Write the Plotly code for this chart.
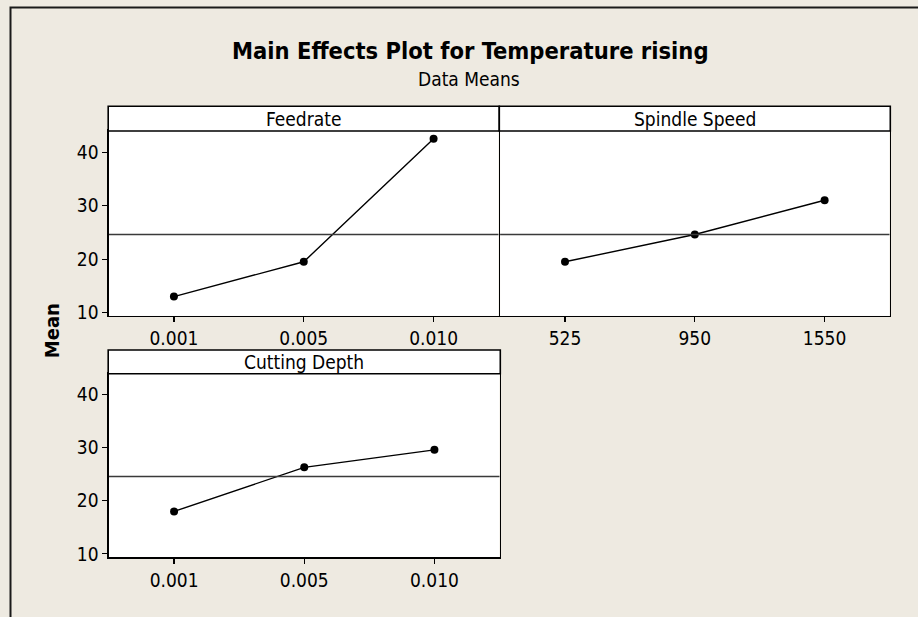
import plotly.graph_objects as go

# ---- data ----
feedrate_levels = ["0.001", "0.005", "0.010"]
feedrate_means = [13.0, 19.5, 42.5]
spindle_levels = ["525", "950", "1550"]
spindle_means = [19.5, 24.6, 31.0]
depth_levels = ["0.001", "0.005", "0.010"]
depth_means = [18.0, 26.3, 29.6]
grand_mean = 24.6
panel_titles = ["Feedrate", "Spindle Speed", "Cutting Depth"]
y_ticks = [10, 20, 30, 40]

W, H = 918, 617
FONT = "DejaVu Sans Condensed, Liberation Sans, Arial, sans-serif"
BG = "#EEEAE1"

def fx(px):
    return px / W

def fy(py):
    return 1 - py / H

fig = go.Figure()

panels = [
    # (levels, means, xaxis id, yaxis id, x0, x1, strip_top, data_top, data_bottom, show y labels)
    (feedrate_levels, feedrate_means, "x", "y", 109.0, 498.5, 107.5, 132.5, 319.5, True),
    (spindle_levels, spindle_means, "x2", "y2", 500.1, 889.5, 107.5, 132.5, 319.5, False),
    (depth_levels, depth_means, "x3", "y3", 109.0, 499.5, 354.0, 378.0, 563.5, True),
]

yr = [9.39, 43.95]
shapes = []
annotations = []

for i, (lv, mv, xa, ya, x0, x1, st, dt, db, showy) in enumerate(panels):
    fig.add_trace(go.Scatter(
        x=lv, y=mv, xaxis=xa, yaxis=ya, mode="lines+markers",
        line=dict(color="black", width=1.4),
        marker=dict(color="black", size=8, symbol="circle"),
        showlegend=False, hoverinfo="skip", cliponaxis=False,
    ))
    suffix = "" if i == 0 else str(i + 1)
    xkey = "xaxis" + suffix
    ykey = "yaxis" + suffix
    fig.layout[xkey] = dict(
        domain=[fx(x0), fx(x1)], anchor=ya, type="category",
        range=[-0.5, 2.5], showgrid=False, zeroline=False,
        showline=True, mirror=True, linecolor="black", linewidth=1.6,
        ticks="outside", ticklen=5, tickwidth=1.2, tickcolor="black",
        tickfont=dict(family=FONT, size=19, color="black"),
        fixedrange=True,
    )
    fig.layout[ykey] = dict(
        domain=[fy(db), fy(dt)], anchor=xa, range=yr,
        tickvals=y_ticks, showgrid=False, zeroline=False,
        showline=True, mirror=True, linecolor="black", linewidth=1.6,
        ticks="outside" if showy else "", ticklen=5, tickwidth=1.2, tickcolor="black",
        showticklabels=showy,
        tickfont=dict(family=FONT, size=19, color="black"),
        fixedrange=True,
    )
    # mean reference line
    shapes.append(dict(type="line", xref=xa + " domain", yref=ya,
                       x0=0, x1=1, y0=grand_mean, y1=grand_mean,
                       line=dict(color="#3a3a3a", width=1.5), layer="above"))
    # strip
    shapes.append(dict(type="rect", xref="paper", yref="paper",
                       x0=fx(x0 - 0.8), x1=fx(x1 + 0.8), y0=fy(dt), y1=fy(st),
                       fillcolor="white", line=dict(color="black", width=1.6)))
    annotations.append(dict(text=panel_titles[i], xref="paper", yref="paper",
                            x=fx((x0 + x1) / 2), y=fy((st + dt) / 2),
                            xanchor="center", yanchor="middle", showarrow=False,
                            font=dict(family=FONT, size=19, color="black")))

# outer frame (cropped at right/bottom)
shapes.append(dict(type="rect", xref="paper", yref="paper",
                   x0=fx(10.5), x1=1.2, y0=-0.2, y1=fy(7.5),
                   line=dict(color="#1a1a1a", width=2), fillcolor="rgba(0,0,0,0)", layer="below"))

annotations += [
    dict(text="<b>Main Effects Plot for Temperature rising</b>", xref="paper", yref="paper",
         x=fx(470), y=fy(52), xanchor="center", yanchor="middle", showarrow=False,
         font=dict(family=FONT, size=23.5, color="black")),
    dict(text="Data Means", xref="paper", yref="paper",
         x=fx(469), y=fy(80), xanchor="center", yanchor="middle", showarrow=False,
         font=dict(family=FONT, size=19, color="black")),
    dict(text="<b>Mean</b>", xref="paper", yref="paper",
         x=fx(52), y=fy(335), xanchor="center", yanchor="middle", showarrow=False,
         textangle=-90, font=dict(family=FONT, size=20, color="black")),
]

fig.update_layout(
    width=W, height=H, margin=dict(l=0, r=0, t=0, b=0),
    paper_bgcolor=BG, plot_bgcolor="white",
    shapes=shapes, annotations=annotations, showlegend=False,
)

fig.write_html("out.html", config={"displayModeBar": False, "staticPlot": True},
               post_script="document.body.style.margin='0px';")
